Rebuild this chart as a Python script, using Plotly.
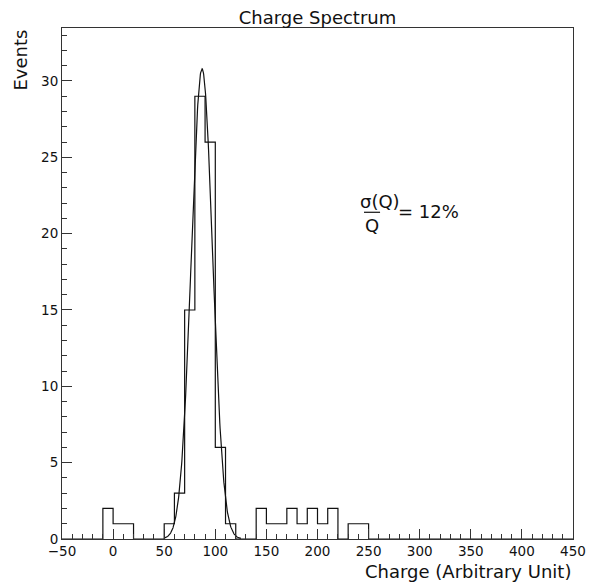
import numpy as np
import plotly.graph_objects as go

# Histogram data (bin width 10, from -50 to 450)
bin_low = list(range(-50, 450, 10))
counts = [0, 0, 0, 0, 2, 1, 1, 0, 0, 0,      # -50 .. 40
          1, 3, 15, 29, 26, 6, 1, 0, 0, 2,    # 50 .. 140
          1, 1, 2, 1, 2, 1, 2, 0, 1, 1,       # 150 .. 240
          0, 0, 0, 0, 0, 0, 0, 0, 0, 0,       # 250 .. 340
          0, 0, 0, 0, 0, 0, 0, 0, 0, 0]       # 350 .. 440
bin_width = 10

# Gaussian fit parameters
fit_const = 30.8
fit_mean = 87.0
fit_sigma = 10.4
fit_range = [50, 125]

x_ticks = [-50, 0, 50, 100, 150, 200, 250, 300, 350, 400, 450]
y_ticks = [0, 5, 10, 15, 20, 25, 30]

edges = bin_low + [bin_low[-1] + bin_width]
step_y = counts + [counts[-1]]

xf = np.linspace(fit_range[0], fit_range[1], 300)
yf = fit_const * np.exp(-0.5 * ((xf - fit_mean) / fit_sigma) ** 2)

FONT = "DejaVu Sans"
INK = "#111111"

# The page body has an 8px margin, so the figure is sized to fit the window.
W, H = 591, 575

fig = go.Figure()
fig.add_trace(go.Scatter(x=edges, y=step_y, mode="lines", line_shape="hv",
                         line=dict(color=INK, width=1.2), showlegend=False,
                         hoverinfo="skip"))
fig.add_trace(go.Scatter(x=xf, y=yf, mode="lines",
                         line=dict(color=INK, width=1.2), showlegend=False,
                         hoverinfo="skip"))

axis_common = dict(showgrid=False, zeroline=False, showline=True, mirror=True,
                   linecolor="#333333", linewidth=1, ticks="inside",
                   tickcolor="#333333", ticklen=10, tickwidth=1,
                   tickfont=dict(family=FONT, size=13.5, color=INK))

fig.update_xaxes(range=[-50, 450], tickvals=x_ticks,
                 minor=dict(ticks="inside", dtick=10, tick0=0, ticklen=5,
                            tickcolor="#333333", tickwidth=1),
                 **axis_common)
fig.update_yaxes(range=[0, 33.47], tickvals=y_ticks,
                 minor=dict(ticks="inside", dtick=1, tick0=0, ticklen=5,
                            tickcolor="#333333", tickwidth=1),
                 **axis_common)

fig.update_layout(
    width=W, height=H,
    margin=dict(l=54, r=26, t=20, b=44),
    paper_bgcolor="white", plot_bgcolor="white",
    title=dict(text="Charge Spectrum", x=309.5 / W, xanchor="center",
               y=1 - 9.5 / H, yanchor="middle",
               font=dict(family=FONT, size=18, color=INK)),
)

annotations = [
    dict(text="Events", xref="paper", yref="paper", x=-0.082, y=1.0,
         xanchor="center", yanchor="top", textangle=-90, showarrow=False,
         font=dict(family=FONT, size=18, color=INK)),
    dict(text="Charge (Arbitrary Unit)", xref="paper", yref="paper",
         x=1.0, y=(539 - 571) / 511, xanchor="right", yanchor="middle",
         showarrow=False, font=dict(family=FONT, size=18, color=INK)),
    dict(text="σ(Q)", xref="x", yref="y", x=261.2, y=22.09,
         xanchor="center", yanchor="middle", showarrow=False,
         font=dict(family=FONT, size=18, color=INK)),
    dict(text="Q", xref="x", yref="y", x=253.8, y=20.56,
         xanchor="center", yanchor="middle", showarrow=False,
         font=dict(family=FONT, size=18, color=INK)),
    dict(text="= 12%", xref="x", yref="y", x=277.0, y=21.44,
         xanchor="left", yanchor="middle", showarrow=False,
         font=dict(family=FONT, size=18, color=INK)),
]
fig.update_layout(annotations=annotations)
fig.add_shape(type="line", xref="x", yref="y", x0=245.5, x1=261.2,
              y0=21.40, y1=21.40, line=dict(color=INK, width=1.2))

fig.write_html("out.html")
